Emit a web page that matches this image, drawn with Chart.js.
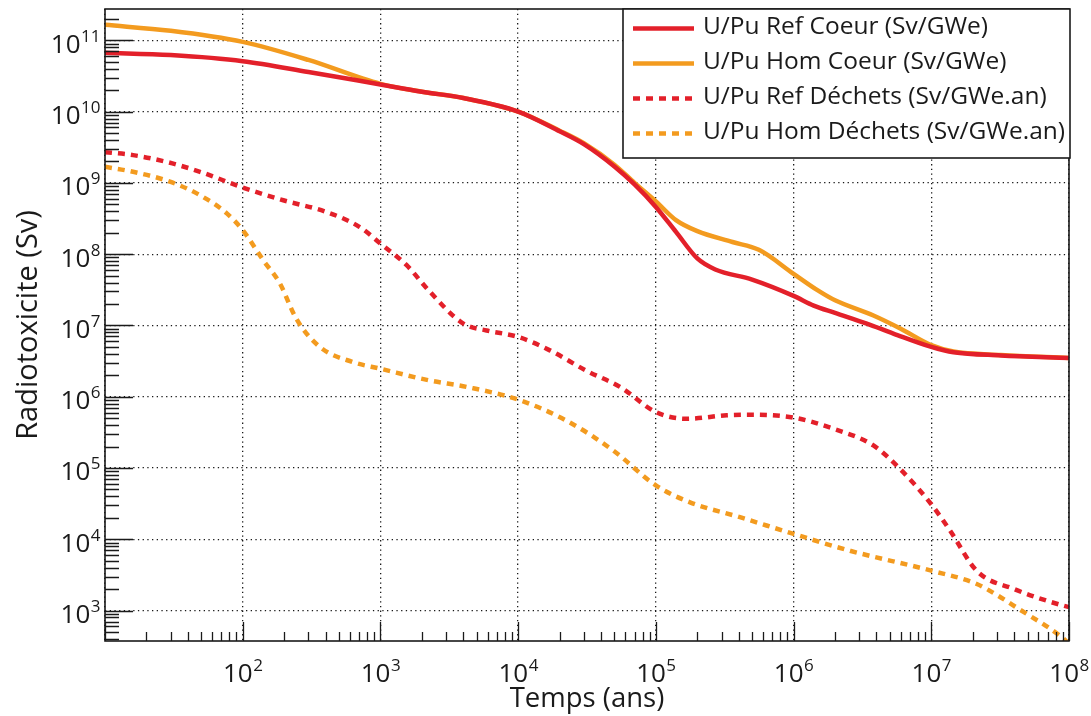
<!DOCTYPE html>
<html lang="fr">
<head>
<meta charset="UTF-8">
<title>Radiotoxicite</title>
<style>
  html, body { margin: 0; padding: 0; background: #fff; }
  #wrap { width: 1091px; height: 716px; }
</style>
</head>
<body>
<div id="wrap"><canvas id="chart" width="1091" height="716"></canvas></div>
<script src="https://cdn.jsdelivr.net/npm/chart.js"></script>
<script>
  // valeurs (temps en ans, radiotoxicite en Sv)
  var refCoeurT  = [10, 30, 100, 300, 1000, 2000, 4000, 1e4, 2e4, 3e4, 5e4, 7e4, 1e5, 1.4e5, 2e5, 2.7e5, 5e5, 1e6, 1.4e6, 2e6, 3.4e6, 5.3e6, 1e7, 1.45e7, 3.2e7, 1e8];
  var refCoeurSv = [6.7e10, 6.2e10, 5.1e10, 3.6e10, 2.4e10, 1.9e10, 1.55e10, 1.0e10, 5.3e9, 3.5e9, 1.7e9, 9.5e8, 4.6e8, 2.05e8, 8.7e7, 6.1e7, 4.4e7, 2.6e7, 1.9e7, 1.5e7, 1.06e7, 7.7e6, 5.0e6, 4.2e6, 3.8e6, 3.5e6];

  var homCoeurT  = [10, 30, 100, 300, 1000, 2000, 4000, 1e4, 2e4, 3e4, 5e4, 7e4, 1e5, 1.4e5, 2e5, 3.6e5, 5.6e5, 1e6, 1.5e6, 2e6, 3.8e6, 6e6, 1e7, 1.45e7, 3.2e7, 1e8];
  var homCoeurSv = [1.65e11, 1.36e11, 9.5e10, 5.3e10, 2.45e10, 1.9e10, 1.55e10, 1.0e10, 5.4e9, 3.6e9, 1.8e9, 1.0e9, 5.5e8, 3.0e8, 2.1e8, 1.48e8, 1.15e8, 5.3e7, 3.1e7, 2.25e7, 1.38e7, 9e6, 5.3e6, 4.3e6, 3.85e6, 3.5e6];

  var refDechetsT  = [10, 16, 28, 49, 100, 197, 407, 708, 1000, 1550, 2240, 4000, 5900, 1e4, 1.7e4, 3.15e4, 5.5e4, 1e5, 1.68e5, 3.27e5, 4.8e5, 1e6, 1.95e6, 3.8e6, 5.9e6, 1e7, 1.37e7, 2.14e7, 4e7, 9.1e7, 1e8];
  var refDechetsSv = [2.7e9, 2.45e9, 1.97e9, 1.43e9, 8.6e8, 5.7e8, 3.9e8, 2.4e8, 1.41e8, 7e7, 3.1e7, 1.06e7, 8.5e6, 6.9e6, 4.47e6, 2.3e6, 1.37e6, 6.1e5, 4.9e5, 5.5e5, 5.6e5, 5.1e5, 3.55e5, 2.07e5, 9.8e4, 3.1e4, 1.32e4, 3.6e3, 2.0e3, 1.17e3, 1.12e3];

  var homDechetsT  = [10, 16, 30, 49, 77, 100, 141, 186, 245, 363, 631, 1000, 2240, 4240, 1e4, 2.25e4, 4.9e4, 1e5, 1.77e5, 4.08e5, 1e6, 2.57e6, 1e7, 2.14e7, 3e7, 4.17e7, 8.9e7, 1e8];
  var homDechetsSv = [1.68e9, 1.43e9, 1.03e9, 6.7e8, 3.7e8, 2.17e8, 8.2e7, 3.9e7, 1.24e7, 5.0e6, 3.06e6, 2.47e6, 1.7e6, 1.37e6, 9.1e5, 4.6e5, 1.76e5, 5.7e4, 3.3e4, 2.04e4, 1.19e4, 6.9e3, 3.63e3, 2.36e3, 1.65e3, 1.1e3, 4.2e2, 3.4e2];

  var seriesLabels = ['U/Pu Ref Coeur (Sv/GWe)', 'U/Pu Hom Coeur (Sv/GWe)', 'U/Pu Ref Déchets (Sv/GWe.an)', 'U/Pu Hom Déchets (Sv/GWe.an)'];
  var xLabelExp = [2, 3, 4, 5, 6, 7, 8];
  var yLabelExp = [3, 4, 5, 6, 7, 8, 9, 10, 11];

  var RED = '#e3202a';
  var ORANGE = '#f39b1f';
  var INK = '#1a1a1a';
  var FONT = '"Open Sans", sans-serif';
  var DASH = [7, 6];

  function pts(t, v) {
    return t.map(function (x, i) { return { x: x, y: v[i] }; });
  }

  // graduations 1..9 x 10^n dans l'intervalle
  function logTicks(min, max) {
    var out = [];
    for (var e = Math.floor(Math.log10(min)); e <= Math.ceil(Math.log10(max)); e++) {
      for (var m = 1; m < 10; m++) {
        var v = m * Math.pow(10, e);
        if (v >= min * 0.999 && v <= max * 1.001) out.push({ value: v });
      }
    }
    return out;
  }
  function isDecade(v) {
    var l = Math.log10(v);
    return Math.abs(l - Math.round(l)) < 1e-6;
  }
  function gridColor(c) {
    return c.tick && isDecade(c.tick.value) ? INK : 'rgba(0,0,0,0)';
  }

  // 10 avec exposant
  function pow10Label(ctx, exp, x, y, align) {
    ctx.font = '26px ' + FONT;
    var w1 = ctx.measureText('10').width;
    ctx.font = '17px ' + FONT;
    var w2 = ctx.measureText(String(exp)).width;
    var x0 = align === 'right' ? x - w1 - w2 : x - (w1 + w2) / 2;
    ctx.textAlign = 'left';
    ctx.textBaseline = 'alphabetic';
    ctx.font = '26px ' + FONT;
    ctx.fillText('10', x0, y);
    ctx.font = '17px ' + FONT;
    ctx.fillText(String(exp), x0 + w1 + 0.5, y - 11);
  }

  var framePlugin = {
    id: 'frame',
    afterDraw: function (chart) {
      var ctx = chart.ctx;
      var a = chart.chartArea;
      var xs = chart.scales.x, ys = chart.scales.y;
      ctx.save();
      ctx.strokeStyle = INK;
      ctx.fillStyle = INK;

      // graduations vers l'interieur
      ctx.lineWidth = 1.3;
      ctx.beginPath();
      xs.ticks.forEach(function (t) {
        var px = Math.round(xs.getPixelForValue(t.value)) + 0.5;
        var len = isDecade(t.value) ? 19 : 9;
        ctx.moveTo(px, a.bottom);
        ctx.lineTo(px, a.bottom - len);
      });
      ys.ticks.forEach(function (t) {
        var py = Math.round(ys.getPixelForValue(t.value)) + 0.5;
        var len = isDecade(t.value) ? 28 : 14;
        ctx.moveTo(a.left, py);
        ctx.lineTo(a.left + len, py);
      });
      ctx.stroke();

      // cadre
      ctx.lineWidth = 1.6;
      ctx.strokeRect(a.left, a.top, a.right - a.left, a.bottom - a.top);

      // etiquettes des axes
      xLabelExp.forEach(function (e) {
        pow10Label(ctx, e, xs.getPixelForValue(Math.pow(10, e)), 682, 'center');
      });
      yLabelExp.forEach(function (e) {
        pow10Label(ctx, e, 100, ys.getPixelForValue(Math.pow(10, e)) + 12.5, 'right');
      });

      // legende
      var lx = 623, ly = a.top, lw = a.right + 1 - lx, lh = 149;
      ctx.fillStyle = '#fff';
      ctx.fillRect(lx, ly, lw, lh);
      ctx.lineWidth = 1.6;
      ctx.strokeStyle = INK;
      ctx.strokeRect(lx, ly, lw, lh);
      chart.data.datasets.forEach(function (ds, i) {
        var yy = ly + 19.5 + i * 35;
        ctx.strokeStyle = ds.borderColor;
        ctx.lineWidth = 4.5;
        ctx.setLineDash(ds.borderDash || []);
        ctx.beginPath();
        ctx.moveTo(633, yy);
        ctx.lineTo(694, yy);
        ctx.stroke();
        ctx.setLineDash([]);
        ctx.fillStyle = INK;
        ctx.font = '24.5px ' + FONT;
        ctx.textAlign = 'left';
        ctx.textBaseline = 'middle';
        ctx.fillText(ds.label, 703, yy - 1);
      });
      ctx.restore();
    }
  };

  function line(label, t, v, color, dashed) {
    return {
      label: label,
      data: pts(t, v),
      borderColor: color,
      backgroundColor: color,
      borderWidth: 4.5,
      borderDash: dashed ? DASH : [],
      pointRadius: 0,
      cubicInterpolationMode: 'monotone',
      fill: false
    };
  }

  var ctx = document.getElementById('chart').getContext('2d');
  var chart = new Chart(ctx, {
    type: 'line',
    data: {
      datasets: [
        line(seriesLabels[0], refCoeurT, refCoeurSv, RED, false),
        line(seriesLabels[1], homCoeurT, homCoeurSv, ORANGE, false),
        line(seriesLabels[2], refDechetsT, refDechetsSv, RED, true),
        line(seriesLabels[3], homDechetsT, homDechetsSv, ORANGE, true)
      ]
    },
    options: {
      responsive: false,
      animation: false,
      layout: { padding: { left: 0, top: 9, right: 22, bottom: 0 } },
      plugins: { legend: { display: false }, tooltip: { enabled: false } },
      scales: {
        x: {
          type: 'logarithmic',
          min: 10,
          max: 1e8,
          afterBuildTicks: function (s) { s.ticks = logTicks(10, 1e8); },
          afterFit: function (s) { s.height = 75; },
          ticks: { display: false },
          grid: { color: gridColor, lineWidth: 1.3, drawTicks: false },
          border: { display: false, dash: [1.3, 3.4] },
          title: {
            display: true,
            text: 'Temps (ans)',
            color: INK,
            font: { family: FONT, size: 27.5 },
            padding: { top: 0, bottom: 0 }
          }
        },
        y: {
          type: 'logarithmic',
          min: 374,
          max: 2.75e11,
          afterBuildTicks: function (s) { s.ticks = logTicks(374, 2.75e11); },
          afterFit: function (s) { s.width = 105; },
          ticks: { display: false },
          grid: { color: gridColor, lineWidth: 1.3, drawTicks: false },
          border: { display: false, dash: [1.3, 3.4] },
          title: {
            display: true,
            text: 'Radiotoxicite (Sv)',
            color: INK,
            font: { family: FONT, size: 29 },
            padding: { top: 11, bottom: 0 }
          }
        }
      }
    },
    plugins: [framePlugin]
  });
</script>
</body>
</html>
